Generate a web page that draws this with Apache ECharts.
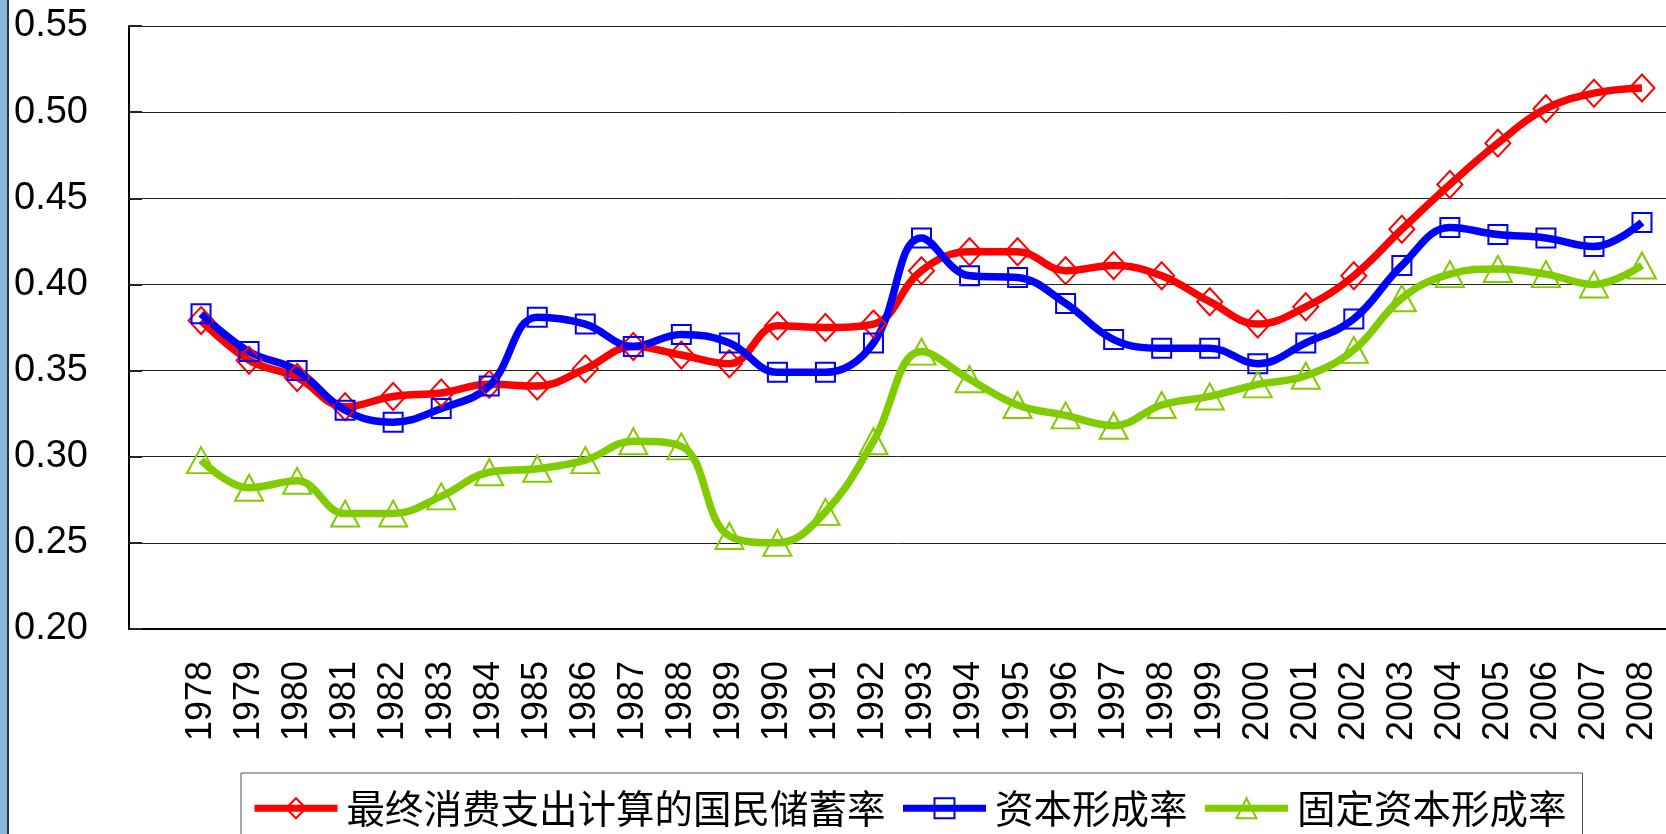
<!DOCTYPE html>
<html>
<head>
<meta charset="utf-8">
<script src="https://cdn.jsdelivr.net/npm/echarts@6/dist/echarts.min.js"></script>
<style>
  html, body { margin: 0; padding: 0; background: #fff; }
  #chart { width: 1666px; height: 834px; }
</style>
</head>
<body>
<div id="chart"></div>
<script>
// 年份
const years = ['1978','1979','1980','1981','1982','1983','1984','1985','1986','1987',
  '1988','1989','1990','1991','1992','1993','1994','1995','1996','1997',
  '1998','1999','2000','2001','2002','2003','2004','2005','2006','2007','2008'];

// 最终消费支出计算的国民储蓄率
const savingRate = [0.379, 0.356, 0.346, 0.329, 0.335, 0.337, 0.342, 0.341, 0.351, 0.364,
  0.359, 0.354, 0.376, 0.375, 0.377, 0.408, 0.419, 0.419, 0.408, 0.411,
  0.405, 0.390, 0.377, 0.387, 0.405, 0.432, 0.458, 0.482, 0.502, 0.511, 0.514];

// 资本形成率
const capitalRate = [0.383, 0.361, 0.350, 0.327, 0.320, 0.328, 0.341, 0.381, 0.377, 0.364,
  0.371, 0.366, 0.349, 0.349, 0.366, 0.427, 0.405, 0.404, 0.389, 0.368,
  0.363, 0.363, 0.354, 0.366, 0.380, 0.411, 0.433, 0.429, 0.427, 0.422, 0.436];

// 固定资本形成率
const fixedRate = [0.298, 0.282, 0.286, 0.267, 0.267, 0.277, 0.291, 0.293, 0.298, 0.309,
  0.306, 0.254, 0.250, 0.268, 0.309, 0.361, 0.345, 0.330, 0.324, 0.318,
  0.330, 0.335, 0.342, 0.347, 0.362, 0.392, 0.406, 0.409, 0.406, 0.400, 0.411];

const yTicks = [0.20, 0.25, 0.30, 0.35, 0.40, 0.45, 0.50, 0.55];

// 左边留一个空位，跟原图一样
const categories = [''].concat(years);
const pad = arr => [null].concat(arr);

function makeSeries(name, data, color, symbol, size){
    return {
        name: name,
        type: 'line',
        data: pad(data),
        smooth: 0.4,
        symbol: symbol,
        symbolSize: size,
        showAllSymbol: true,
        lineStyle: { color: color, width: 7.5 },
        itemStyle: { color: 'transparent', borderColor: color, borderWidth: 2 }
    };
}

const chart = echarts.init(document.getElementById('chart'), null, { renderer: 'canvas' });

let option = {
    animation: false,
    backgroundColor: '#fff',
    grid: { left: 129, top: 26, right: 0, bottom: 205 },
    legend: {
        left: 241,
        top: 773,
        padding: [16, 16, 30, 10],
        itemGap: 14,
        itemWidth: 83,
        itemHeight: 25,
        borderColor: '#555',
        borderWidth: 1,
        lineStyle: { width: 7 },
        textStyle: {
            fontFamily: 'Noto Sans CJK SC',
            fontSize: 38.5,
            color: '#000',
            padding: [0, 0, 0, 4]
        }
    },
    xAxis: {
        type: 'category',
        data: categories,
        boundaryGap: true,
        axisLine: { lineStyle: { color: '#000', width: 2 } },
        axisTick: { inside: true, length: 13, interval: 0, lineStyle: { color: '#333' } },
        axisLabel: {
            interval: 0,
            rotate: 90,
            margin: 32,
            fontFamily: 'Liberation Sans',
            fontSize: 36,
            color: '#000'
        },
        splitLine: { show: false }
    },
    yAxis: {
        type: 'value',
        min: yTicks[0],
        max: yTicks[yTicks.length - 1],
        interval: 0.05,
        axisLine: { show: true, lineStyle: { color: '#000', width: 2 } },
        axisTick: { show: true, inside: true, length: 13, lineStyle: { color: '#222', width: 2 } },
        axisLabel: {
            margin: 41,
            fontFamily: 'Liberation Sans',
            fontSize: 38,
            color: '#000',
            formatter: v => v.toFixed(2)
        },
        splitLine: { lineStyle: { color: '#222', width: 1 } }
    },
    graphic: [
        { type: 'rect', left: 0, top: 0, shape: { width: 7, height: 834 }, style: { fill: '#86b8da' } },
        { type: 'rect', left: 7, top: 0, shape: { width: 2, height: 834 }, style: { fill: '#333' } }
    ],
    series: [
        makeSeries('最终消费支出计算的国民储蓄率', savingRate, '#ff0000', 'diamond', [25, 27]),
        makeSeries('资本形成率', capitalRate, '#0000ff', 'rect', 19),
        makeSeries('固定资本形成率', fixedRate, '#80cc00', 'triangle', [28, 26])
    ]
};

chart.setOption(option);
</script>
</body>
</html>
